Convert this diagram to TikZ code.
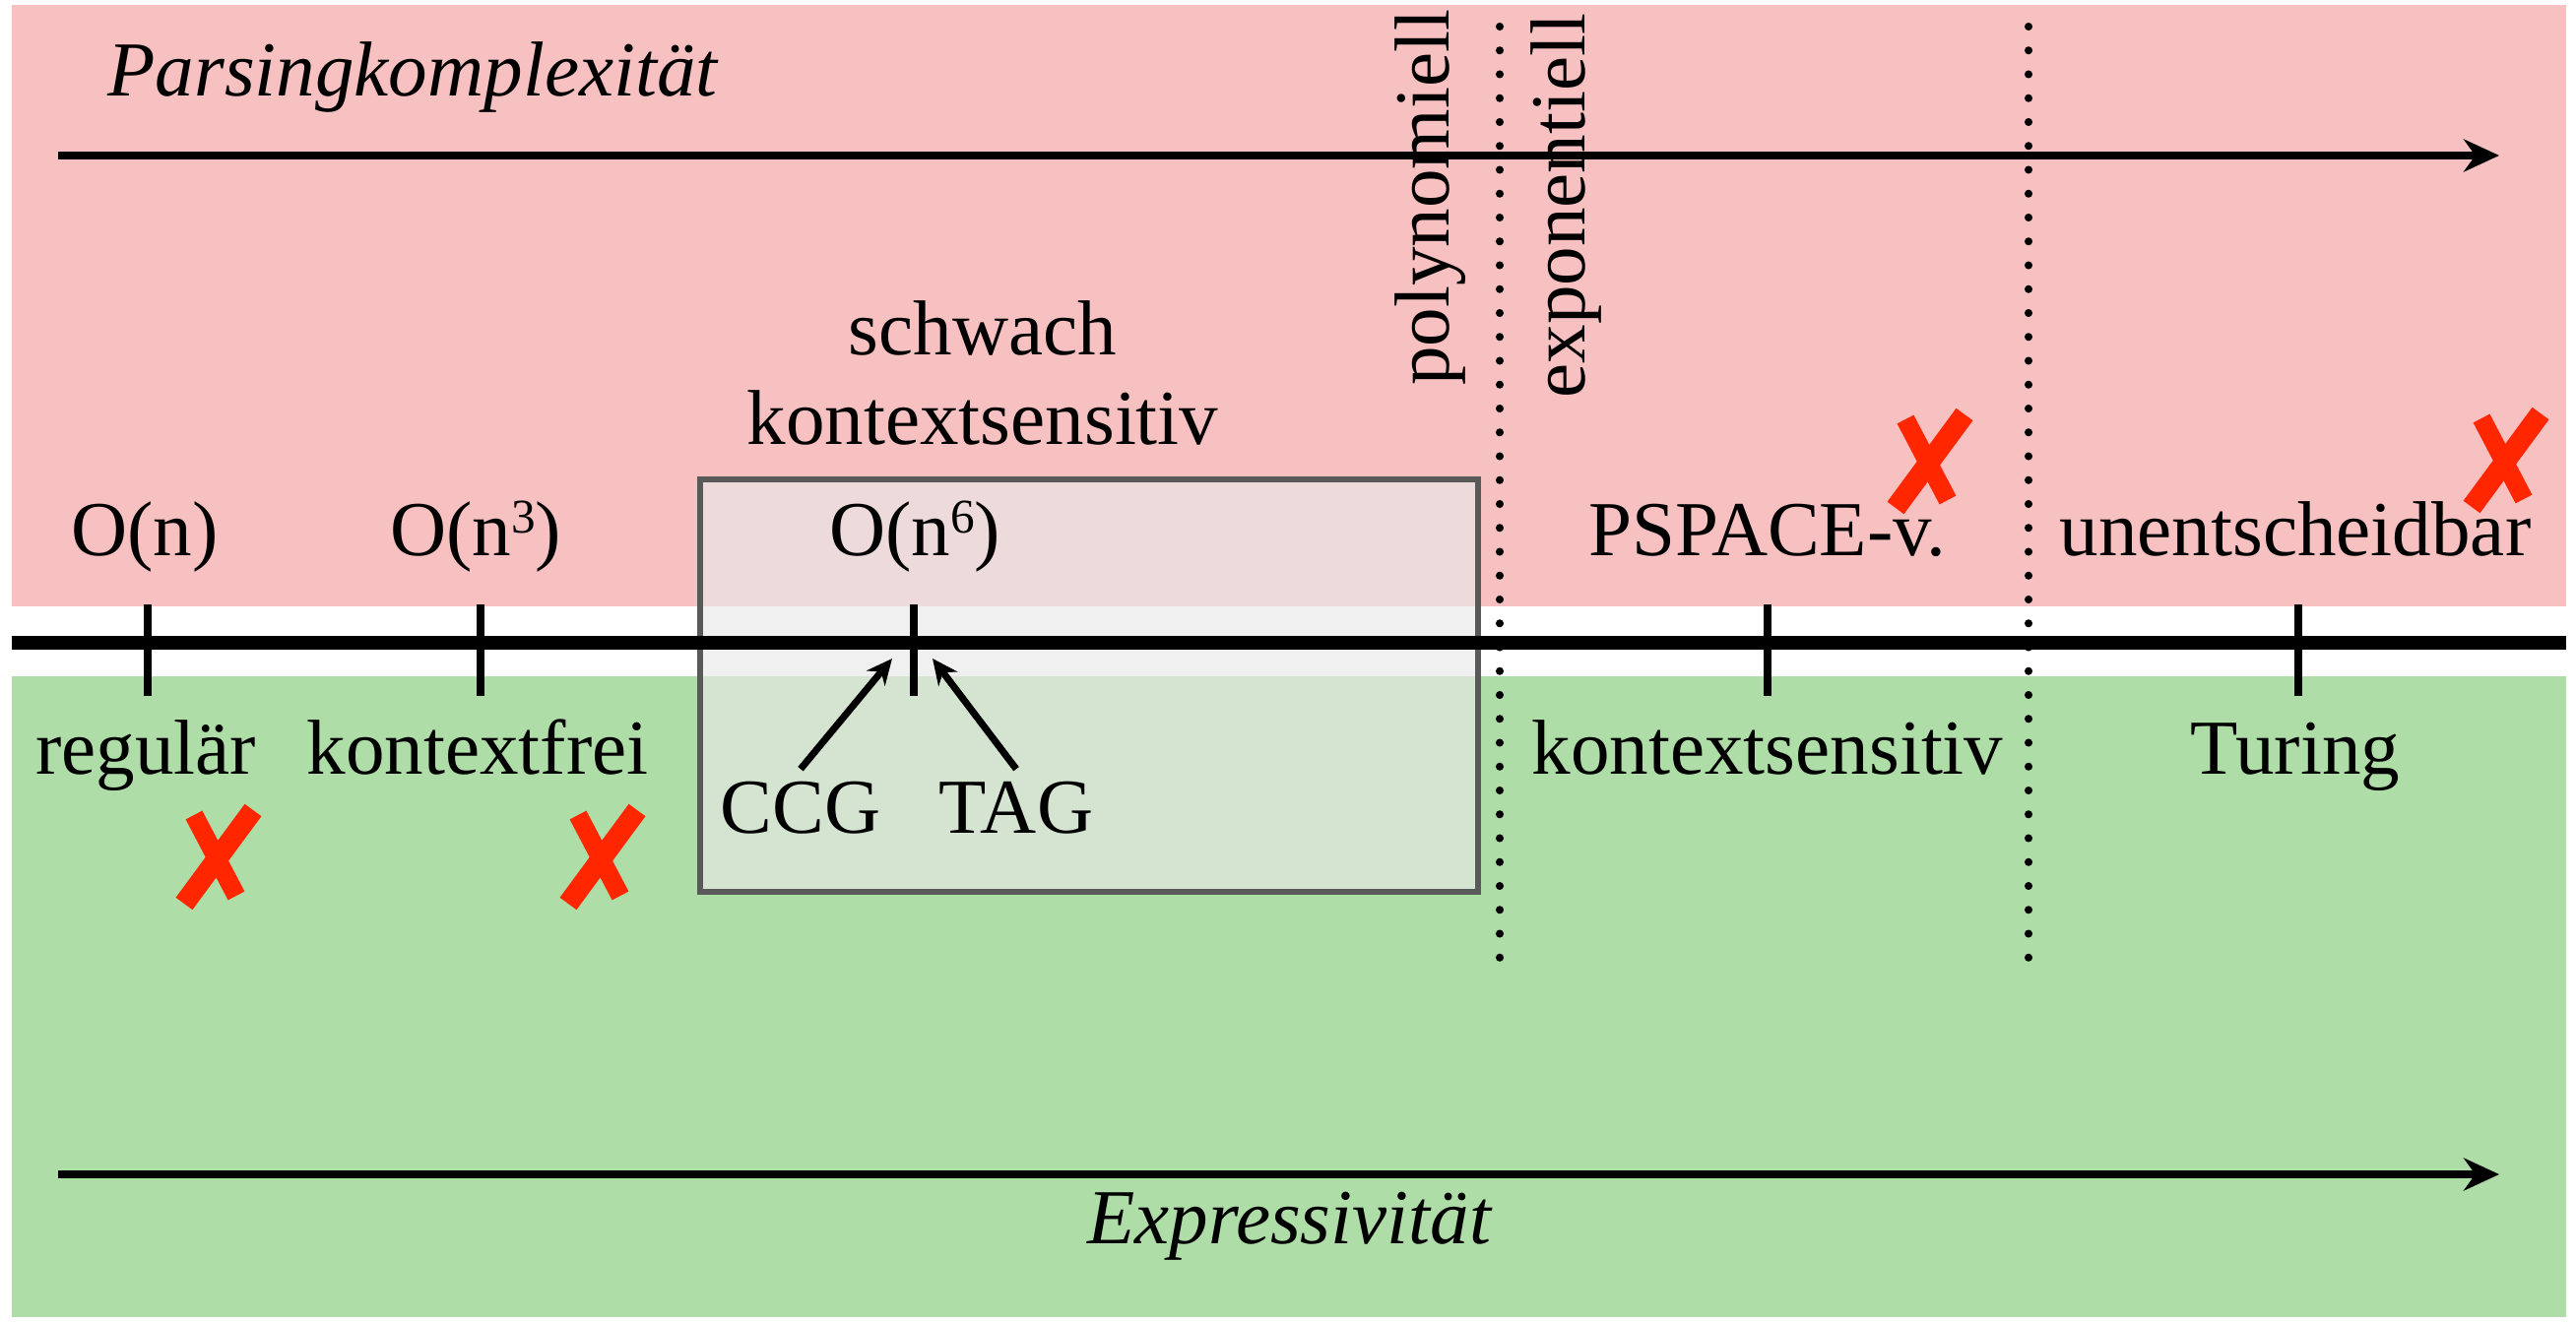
\documentclass[tikz,border=0pt]{standalone}
\usepackage{fontspec}
\setmainfont{Liberation Serif}
\usetikzlibrary{arrows.meta}

\definecolor{parsered}{RGB}{248,193,193}
\definecolor{exprgreen}{RGB}{175,221,167}
\definecolor{crossred}{RGB}{255,38,0}
\newcommand{\hoch}[1]{\raisebox{0.3em}{\fontsize{14}{14}\selectfont #1}}

\begin{document}
\begin{tikzpicture}[font=\fontsize{22.5}{26}\selectfont,
    axisarrow/.style={line width=2.2pt,-{Stealth[length=0.36cm,width=0.33cm]}},
    tick/.style={line width=0.077cm},
    border/.style={line width=2.3pt,line cap=round,dash pattern=on 0pt off 6.9pt},
    label/.style={anchor=base}]
        \useasboundingbox(0,0)rectangle(26.16,13.42);
        \fill[parsered](0.12,7.26)rectangle(26.06,13.37);
        \fill[exprgreen](0.12,0.04)rectangle(26.06,6.55);

        % schwach kontextsensitiv
        \filldraw[fill=black!9,fill opacity=0.65,draw=black!65,line width=1.5pt](7.11,4.36)rectangle(15.01,8.55);

        \coordinate(ptop)at(0.59,11.84);
        \coordinate(etop)at(25.38,11.84);
        \coordinate(pbot)at(0.59,1.49);
        \coordinate(ebot)at(25.38,1.49);
        \draw[axisarrow](ptop)--(etop);
        \draw[axisarrow](pbot)--(ebot);
        \node[anchor=base west](parsing)at(0.97,12.44){\textit{Parsingkomplexität}};
        \node[label](expr)at(13.10,0.79){\textit{Expressivität}};

        \draw[line width=0.14cm](0.12,6.89)--(26.06,6.89);
        \foreach \t/\x in {reg/1.50,cf/4.88,mcs/9.28,cs/17.95,tur/23.34}{
            \draw[tick](\x,7.28)--(\x,6.35);
        }

        \draw[border](15.23,13.15)--(15.23,3.49);
        \draw[border](20.60,13.15)--(20.60,3.49);
        \node[rotate=90,anchor=south east,inner sep=0](poly)at(14.89,13.33){polynomiell};
        \node[rotate=90,anchor=south east,inner sep=0](expo)at(16.27,13.29){exponentiell};

        \node[label](on)at(1.47,7.77){O(n)};
        \node[label](onthree)at(4.83,7.77){O(n\hoch{3})};
        \node[label](onsix)at(9.29,7.77){O(n\hoch{6})};
        \node[label](pspace)at(17.95,7.77){PSPACE-v.};
        \node[label](undec)at(23.31,7.77){unentscheidbar};
        \node[anchor=south,align=center,inner sep=0](mcs)at(9.98,8.89){schwach\\kontextsensitiv};

        \node[label](reg)at(1.48,5.55){regulär};
        \node[label](cf)at(4.85,5.55){kontextfrei};
        \node[label](cs)at(17.95,5.55){kontextsensitiv};
        \node[label](tur)at(23.31,5.55){Turing};
        \node[label](ccg)at(8.13,4.96){CCG};
        \node[label](tag)at(10.32,4.96){TAG};

        \coordinate(ccgend)at(9.06,6.73);
        \coordinate(tagend)at(9.47,6.73);
        \draw[line width=2pt,-{Stealth[length=0.26cm,width=0.24cm]}](ccg.north)--(ccgend);
        \draw[line width=2pt,-{Stealth[length=0.26cm,width=0.24cm]}](tag.north)--(tagend);

        % rote Kreuze
        \foreach \cx/\cy in {2.22/4.72,6.12/4.72,19.60/8.74,25.45/8.75}{
            \begin{scope}[shift={(\cx,\cy)}]
                \draw[crossred,line width=0.19cm](-0.25,0.42)--(0.18,-0.40);
                \draw[crossred,line width=0.21cm](0.35,0.47)--(-0.35,-0.48);
            \end{scope}
        }
\end{tikzpicture}
\end{document}
